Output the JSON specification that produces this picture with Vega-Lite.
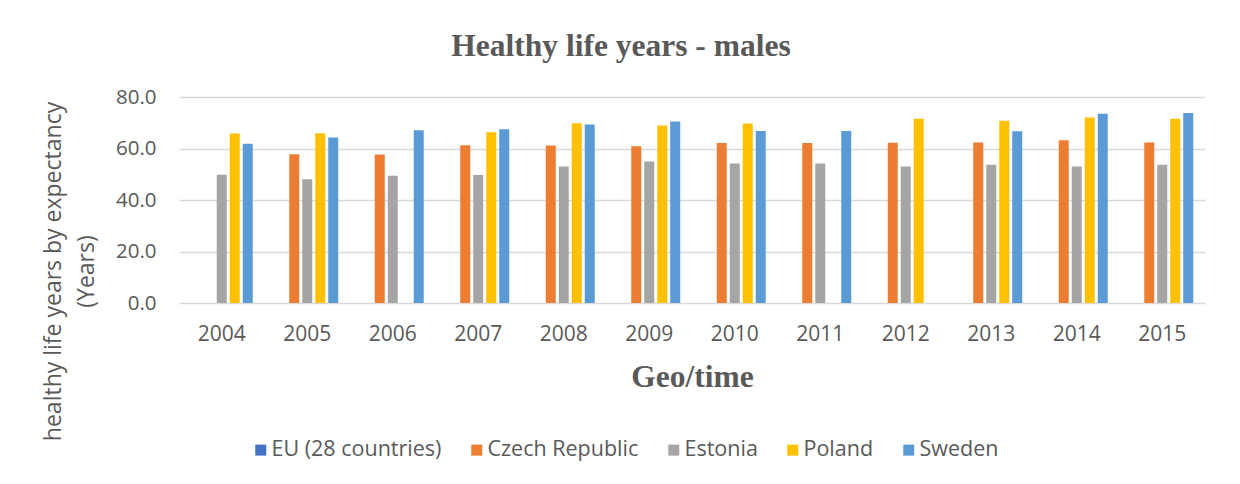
{
  "$schema": "https://vega.github.io/schema/vega-lite/v6.json",
  "width": 1026,
  "height": 206,
  "autosize": {"type": "none"},
  "padding": {"left": 179, "top": 97, "right": 35, "bottom": 181},
  "background": "white",
  "title": {
    "text": "Healthy life years - males",
    "font": "Liberation Serif",
    "fontSize": 31.5,
    "fontWeight": "bold",
    "color": "#595959",
    "anchor": "middle",
    "frame": "group",
    "dx": -71,
    "offset": 25
  },
  "data": {
    "values": [
      {"year": "2004", "country": "Estonia", "value": 49.8},
      {"year": "2004", "country": "Poland", "value": 65.8},
      {"year": "2004", "country": "Sweden", "value": 61.8},
      {"year": "2005", "country": "Czech Republic", "value": 57.8},
      {"year": "2005", "country": "Estonia", "value": 48.1},
      {"year": "2005", "country": "Poland", "value": 65.9},
      {"year": "2005", "country": "Sweden", "value": 64.3},
      {"year": "2006", "country": "Czech Republic", "value": 57.7},
      {"year": "2006", "country": "Estonia", "value": 49.4},
      {"year": "2006", "country": "Sweden", "value": 67.1},
      {"year": "2007", "country": "Czech Republic", "value": 61.3},
      {"year": "2007", "country": "Estonia", "value": 49.7},
      {"year": "2007", "country": "Poland", "value": 66.3},
      {"year": "2007", "country": "Sweden", "value": 67.5},
      {"year": "2008", "country": "Czech Republic", "value": 61.2},
      {"year": "2008", "country": "Estonia", "value": 53.0},
      {"year": "2008", "country": "Poland", "value": 69.8},
      {"year": "2008", "country": "Sweden", "value": 69.3},
      {"year": "2009", "country": "Czech Republic", "value": 60.9},
      {"year": "2009", "country": "Estonia", "value": 55.0},
      {"year": "2009", "country": "Poland", "value": 68.9},
      {"year": "2009", "country": "Sweden", "value": 70.5},
      {"year": "2010", "country": "Czech Republic", "value": 62.1},
      {"year": "2010", "country": "Estonia", "value": 54.2},
      {"year": "2010", "country": "Poland", "value": 69.7},
      {"year": "2010", "country": "Sweden", "value": 66.8},
      {"year": "2011", "country": "Czech Republic", "value": 62.1},
      {"year": "2011", "country": "Estonia", "value": 54.2},
      {"year": "2011", "country": "Sweden", "value": 66.8},
      {"year": "2012", "country": "Czech Republic", "value": 62.2},
      {"year": "2012", "country": "Estonia", "value": 53.0},
      {"year": "2012", "country": "Poland", "value": 71.6},
      {"year": "2013", "country": "Czech Republic", "value": 62.3},
      {"year": "2013", "country": "Estonia", "value": 53.7},
      {"year": "2013", "country": "Poland", "value": 70.8},
      {"year": "2013", "country": "Sweden", "value": 66.7},
      {"year": "2014", "country": "Czech Republic", "value": 63.2},
      {"year": "2014", "country": "Estonia", "value": 53.0},
      {"year": "2014", "country": "Poland", "value": 72.0},
      {"year": "2014", "country": "Sweden", "value": 73.5},
      {"year": "2015", "country": "Czech Republic", "value": 62.3},
      {"year": "2015", "country": "Estonia", "value": 53.7},
      {"year": "2015", "country": "Poland", "value": 71.6},
      {"year": "2015", "country": "Sweden", "value": 73.8}
    ]
  },
  "mark": {"type": "bar"},
  "encoding": {
    "x": {
      "field": "year",
      "type": "ordinal",
      "scale": {"paddingInner": 0.24, "paddingOuter": 0.12},
      "axis": {
        "title": "Geo/time",
        "titleFont": "Liberation Serif",
        "titleFontSize": 31.5,
        "titleFontWeight": "bold",
        "titleColor": "#595959",
        "titlePadding": 17,
        "labelAngle": 0,
        "labelFont": "Open Sans",
        "labelFontSize": 21,
        "labelColor": "#595959",
        "labelPadding": 20,
        "ticks": false,
        "domain": false,
        "grid": false
      }
    },
    "xOffset": {
      "field": "country",
      "scale": {
        "domain": ["EU (28 countries)", "Czech Republic", "Estonia", "Poland", "Sweden"],
        "paddingInner": 0.23,
        "paddingOuter": 0.115
      }
    },
    "y": {
      "field": "value",
      "type": "quantitative",
      "scale": {"domain": [0, 80], "nice": false},
      "axis": {
        "title": ["healthy life years by expectancy", "(Years)"],
        "titleFont": "Open Sans",
        "titleFontSize": 23,
        "titleFontWeight": "normal",
        "titleColor": "#595959",
        "titleLineHeight": 33,
        "titleAngle": -90,
        "titleAlign": "center",
        "titleBaseline": "top",
        "titleX": -137,
        "titleY": 174,
        "values": [0, 20, 40, 60, 80],
        "format": ".1f",
        "labelFont": "Open Sans",
        "labelFontSize": 20.5,
        "labelColor": "#595959",
        "labelPadding": 23,
        "ticks": false,
        "domain": false,
        "gridColor": "#d9d9d9",
        "gridWidth": 1.3
      }
    },
    "color": {
      "field": "country",
      "type": "nominal",
      "scale": {
        "domain": ["EU (28 countries)", "Czech Republic", "Estonia", "Poland", "Sweden"],
        "range": ["#4472C4", "#ED7D31", "#A5A5A5", "#FFC000", "#5B9BD5"]
      },
      "legend": {
        "title": null,
        "orient": "none",
        "direction": "horizontal",
        "legendX": 71,
        "legendY": 342,
        "symbolType": "square",
        "symbolSize": 121,
        "symbolStrokeWidth": 0,
        "labelFont": "Open Sans",
        "labelFontSize": 21.5,
        "labelColor": "#595959",
        "labelLimit": 400,
        "labelOffset": 0,
        "columnPadding": 24
      }
    }
  },
  "config": {"view": {"stroke": null}}
}
